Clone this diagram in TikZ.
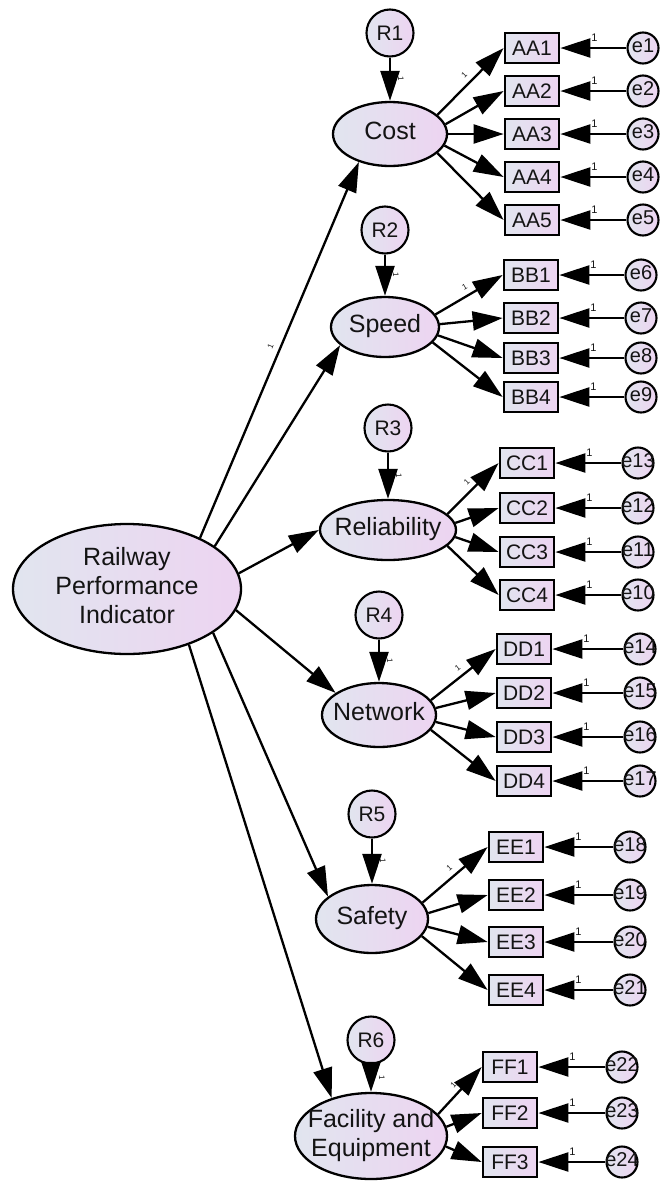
\documentclass[tikz,border=0pt]{standalone}
\usepackage{fontspec}
\setmainfont{Liberation Sans}
\usetikzlibrary{arrows.meta,shapes.geometric}

\definecolor{gradA}{HTML}{E1E5EF}
\definecolor{gradB}{HTML}{EDD4F1}
\definecolor{ink}{HTML}{141414}

% text box of zero width, so that the shape keeps its given size
\newcommand{\zbox}[1]{\makebox[0pt]{\begin{tabular}{@{}c@{}}#1\end{tabular}}}

\tikzset{
  shadefill/.style={left color=gradA, right color=gradB},
  latent/.style={ellipse, draw, line width=2.3pt, shadefill, inner sep=0pt,
    text=ink, font=\fontsize{25}{29}\selectfont},
  resid/.style={circle, draw, line width=2.1pt, shadefill, inner sep=0pt,
    minimum size=47pt, text=ink, font=\fontsize{21}{21}\selectfont},
  err/.style={circle, draw, line width=2.1pt, shadefill, inner sep=0pt,
    minimum size=31pt, text=ink, font=\fontsize{20}{20}\selectfont},
  obs/.style={rectangle, draw, line width=2.7pt, shadefill, inner sep=0pt,
    minimum width=54pt, minimum height=30pt, text=ink,
    font=\fontsize{21}{21}\selectfont},
  arr/.style={line width=2.3pt, -{Triangle[length=30pt,width=19pt]}},
  wlab/.style={font=\fontsize{8}{8}\selectfont, inner sep=1pt, text=ink},
  elab/.style={font=\fontsize{11}{11}\selectfont, inner sep=0pt, text=ink},
}

\begin{document}
\begin{tikzpicture}[x=1pt, y=-1pt]
\useasboundingbox (0,0) rectangle (660,1181);

% second-order factor
\node[latent, minimum width=228pt, minimum height=130pt] (rpi) at (127,589)
  {\zbox{Railway\\Performance\\Indicator}};

% first-order factors
\node[latent, minimum width=114pt, minimum height=64pt] (cost) at (390,134) {\zbox{Cost}};
\node[latent, minimum width=108pt, minimum height=60pt] (speed) at (385,327) {\zbox{Speed}};
\node[latent, minimum width=136pt, minimum height=60pt] (rel) at (388,530) {\zbox{Reliability}};
\node[latent, minimum width=114pt, minimum height=64pt] (net) at (379,715) {\zbox{Network}};
\node[latent, minimum width=112pt, minimum height=68pt] (safe) at (372,919) {\zbox{Safety}};
\node[latent, minimum width=152pt, minimum height=86pt] (fac) at (371,1136) {\zbox{Facility and\\Equipment}};

% structural residuals, each straight above its factor
\node[resid] (R1) at (390,33) {R1};
\node[resid] (R2) at (385,230) {R2};
\node[resid] (R3) at (388,428) {R3};
\node[resid] (R4) at (379,615) {R4};
\node[resid] (R5) at (372,814) {R5};
\node[resid] (R6) at (371,1040) {R6};

\foreach \r/\f in {R1/cost, R2/speed, R3/rel, R4/net, R5/safe, R6/fac}
  \draw[arr] (\r) -- node[wlab, pos=0.5, above=6pt, sloped]{1} (\f);

% paths from the second-order factor
\draw[arr] (rpi.35) -- node[wlab, pos=0.5, above=5pt, sloped]{1} (cost.222);
\draw[arr] (rpi.26) -- (speed.202);
\draw[arr] (rpi.8.5) -- (rel.180);
\draw[arr] (rpi.-11) -- (net.153);
\draw[arr] (rpi.-27) -- (safe.153);
\draw[arr] (rpi.-42) -- (fac.136);

% indicators with their error terms
\foreach \n/\y/\e in {1/48/1, 2/91/2, 3/134/3, 4/177/4, 5/220/5} {
  \node[obs] (AA\n) at (532,\y) {AA\n};
  \node[err] (e\e) at (643,\y) {\zbox{e\e}};
  \draw[arr] (e\e) -- (AA\n);
  \node[elab] at ([shift={(34,-10)}]AA\n.east) {1};
}
\foreach \n/\y/\e in {1/275/6, 2/318/7, 3/358/8, 4/397/9} {
  \node[obs] (BB\n) at (531,\y) {BB\n};
  \node[err] (e\e) at (641,\y) {\zbox{e\e}};
  \draw[arr] (e\e) -- (BB\n);
  \node[elab] at ([shift={(34,-10)}]BB\n.east) {1};
}
\foreach \n/\y/\e in {1/463/13, 2/508/12, 3/552/11, 4/595/10} {
  \node[obs] (CC\n) at (527,\y) {CC\n};
  \node[err] (e\e) at (638,\y) {\zbox{e\e}};
  \draw[arr] (e\e) -- (CC\n);
  \node[elab] at ([shift={(34,-10)}]CC\n.east) {1};
}
\foreach \n/\y/\e in {1/649/14, 2/693/15, 3/737/16, 4/781/17} {
  \node[obs] (DD\n) at (524,\y) {DD\n};
  \node[err] (e\e) at (640,\y) {\zbox{e\e}};
  \draw[arr] (e\e) -- (DD\n);
  \node[elab] at ([shift={(34,-10)}]DD\n.east) {1};
}
\foreach \n/\y/\e in {1/847/18, 2/895/19, 3/942/20, 4/990/21} {
  \node[obs] (EE\n) at (516,\y) {EE\n};
  \node[err] (e\e) at (630,\y) {\zbox{e\e}};
  \draw[arr] (e\e) -- (EE\n);
  \node[elab] at ([shift={(34,-10)}]EE\n.east) {1};
}
\foreach \n/\y/\e in {1/1067/22, 2/1113/23, 3/1162/24} {
  \node[obs] (FF\n) at (510,\y) {FF\n};
  \node[err] (e\e) at (622,\y) {\zbox{e\e}};
  \draw[arr] (e\e) -- (FF\n);
  \node[elab] at ([shift={(34,-10)}]FF\n.east) {1};
}

% factor loadings
\draw[arr] (cost.22) -- node[wlab, pos=0.5, above=4pt, sloped]{1} (AA1.west);
\foreach \n/\a in {2/10, 3/0, 4/-12, 5/-22} \draw[arr] (cost.\a) -- (AA\n.west);

\draw[arr] (speed.14) -- node[wlab, pos=0.5, above=4pt, sloped]{1} (BB1.west);
\foreach \n/\a in {2/3, 3/-9, 4/-18} \draw[arr] (speed.\a) -- (BB\n.west);

\draw[arr] (rel.15) -- node[wlab, pos=0.5, above=4pt, sloped]{1} (CC1.west);
\foreach \n/\a in {2/6, 3/-6, 4/-15} \draw[arr] (rel.\a) -- (CC\n.west);

\draw[arr] (net.16) -- node[wlab, pos=0.5, above=4pt, sloped]{1} (DD1.west);
\foreach \n/\a in {2/7, 3/-7, 4/-16} \draw[arr] (net.\a) -- (DD\n.west);

\draw[arr] (safe.18) -- node[wlab, pos=0.5, above=4pt, sloped]{1} (EE1.west);
\foreach \n/\a in {2/6, 3/-8, 4/-19} \draw[arr] (safe.\a) -- (EE\n.west);

\draw[arr] (fac.18) -- node[wlab, pos=0.5, above=4pt, sloped]{1} (FF1.west);
\foreach \n/\a in {2/7, 3/-8} \draw[arr] (fac.\a) -- (FF\n.west);

\end{tikzpicture}
\end{document}
